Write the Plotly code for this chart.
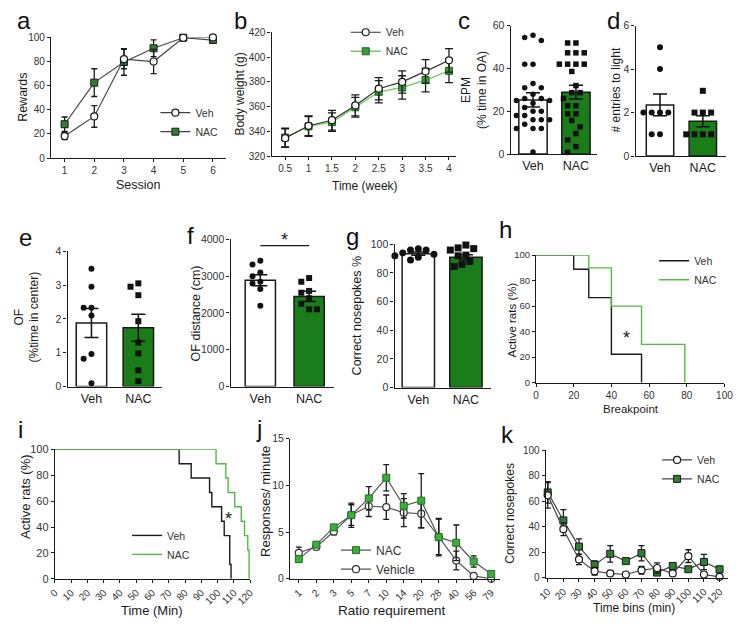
import numpy as np
import plotly.graph_objects as go

W, H = 750, 625
FONT = "Liberation Sans, Arial, sans-serif"
INK = "#1a1a1a"
TICK = "#333333"
GREEN_BAR = "#1a7d1a"
GREEN_MK = "#2e7d32"
GREEN_LINE = "#7cc96a"
GREEN_STEP = "#55b848"
GREEN_J = "#3aae3a"

# ---------------- data ----------------
# a: rewards per session
a_session = [1, 2, 3, 4, 5, 6]
a_veh = [18.2, 34.5, 82.0, 80.0, 99.7, 100.0]
a_veh_err = [3, 9, 8, 10, 0.5, 0.5]
a_nac = [28.0, 62.5, 79.6, 91.0, 99.7, 97.8]
a_nac_err = [6, 11.5, 11, 7, 0.5, 0.5]

# b: body weight
b_week = [0.5, 1, 1.5, 2, 2.5, 3, 3.5, 4]
b_veh = [334.5, 344.5, 349.0, 361.0, 374.5, 380.0, 388.5, 397.5]
b_veh_err = [7.5, 8, 8, 8.5, 9, 9, 9.5, 9.5]
b_nac = [335.0, 344.0, 347.5, 359.5, 372.0, 375.5, 381.5, 389.0]
b_nac_err = [7.5, 8, 7.5, 8, 9, 9.5, 9.5, 9.5]

groups = ["Veh", "NAC"]

# c: EPM % time in open arms
c_veh_pts = [55.5, 54.5, 53, 42, 42, 33, 31, 31, 28, 26, 26, 25, 25, 23.7, 21.8,
             20, 20, 18, 18, 16, 16, 16, 14, 12, 12, 12, 1]
c_nac_pts = [51.9, 51.9, 47.3, 47.3, 47.3, 42, 42, 42, 42, 38.6, 32, 28.7, 28.7,
             26, 22.6, 22.6, 18.8, 18.8, 15.7, 12.7, 9.6, 6.6, 3.5, 0.8]
c_mean = [25.3, 28.9]
c_sem = [3.3, 3.2]

# d: entries to light
d_veh_pts = [5, 4, 2, 2, 2, 2, 1, 1]
d_nac_pts = [3, 2, 2, 2, 1, 1, 1, 1]
d_mean = [2.35, 1.6]
d_sem = [0.5, 0.25]

# e: OF % time in center
e_veh_pts = [3.48, 2.95, 2.33, 2.33, 2.1, 0.96, 0.82, 0.1]
e_nac_pts = [3.05, 2.95, 2.7, 1.93, 1.3, 0.98, 0.48, 0.16]
e_mean = [1.88, 1.74]
e_sem = [0.43, 0.4]

# f: OF distance
f_veh_pts = [3420, 3320, 3100, 3000, 2850, 2800, 2650, 2200]
f_nac_pts = [2950, 2850, 2600, 2550, 2400, 2250, 2100, 2100]
f_mean = [2890, 2450]
f_sem = [150, 140]
f_sig_y = 3830

# g: correct nosepokes %
g_veh_pts = [97, 96, 96, 94, 93, 92, 91, 89]
g_nac_pts = [99.5, 97.5, 97, 96, 92.5, 92, 88, 86, 84.5]
g_mean = [93.5, 91.0]
g_sem = [1.2, 1.8]

# h: survival vs breakpoint
h_veh_x = [0, 20, 28, 40, 56]
h_veh_y = [100, 88.9, 66.7, 22.2, 0]
h_nac_x = [0, 28, 40, 56, 79]
h_nac_y = [100, 90, 60, 30, 0]
h_star = (48, 38)

# i: survival vs time
i_veh_x = [0, 76.4, 83.8, 95.1, 96.5, 102.5, 104.1, 107.5, 108.3]
i_veh_y = [100, 88.9, 77.8, 66.7, 55.6, 44.4, 33.3, 11.1, 0]
i_nac_x = [0, 99.1, 105.1, 106.5, 110.6, 114.6, 116.6, 118.6, 119.4]
i_nac_y = [100, 88.9, 77.8, 66.7, 55.6, 44.4, 33.3, 22.2, 0]
i_star = (107, 49)

# j: responses per minute vs ratio requirement
j_ratio = ["1", "2", "3", "5", "7", "10", "14", "20", "28", "40", "56", "79"]
j_nac = [2.1, 3.65, 5.5, 6.8, 8.6, 10.8, 7.8, 8.35, 4.45, 3.85, 1.85, 0.52]
j_nac_err = [0.3, 0.2, 0.3, 1.3, 1.25, 1.4, 1.3, 2.9, 2.0, 1.9, 0.6, 0.2]
j_veh = [2.78, 3.41, 5.05, 6.82, 7.76, 7.66, 7.07, 6.96, 4.49, 1.95, 0.31, 0.0]
j_veh_err = [0.6, 0.3, 0.35, 1.1, 1.1, 1.3, 1.5, 1.5, 1.9, 1.0, 0.1, 0.05]

# k: correct nosepokes per time bin
k_bins = [10, 20, 30, 40, 50, 60, 70, 80, 90, 100, 110, 120]
k_veh = [64.7, 38.1, 14.4, 5.2, 3.4, 2.6, 5.9, 7.7, 3.4, 17.0, 2.6, 0.8]
k_veh_err = [10, 5, 4, 3, 2, 1, 3, 4, 2, 5, 2, 1]
k_nac = [67.0, 45.0, 24.5, 10.3, 18.8, 13.1, 19.3, 4.1, 9.3, 6.7, 12.4, 6.7]
k_nac_err = [8.5, 8.5, 6, 3, 6.5, 2, 6, 2, 2, 1, 6, 1]

# ---------------- geometry (pixels) ----------------
P = {
    'a': dict(x=(43, 222), y=(32, 155), xr=[0.54, 6.43], yr=[0, 100]),
    'b': dict(x=(269, 458), y=(27, 153), xr=[0.21, 4.15], yr=[320, 420]),
    'c': dict(x=(514, 602), y=(20, 151), xr=[-0.52, 1.48], yr=[0, 60]),
    'd': dict(x=(642, 735), y=(20, 153), xr=[-0.57, 1.55], yr=[0, 6]),
    'e': dict(x=(60, 157), y=(250, 388), xr=[-0.51, 1.51], yr=[0, 4]),
    'f': dict(x=(227, 333), y=(238, 388), xr=[-0.61, 1.51], yr=[0, 4000]),
    'g': dict(x=(395, 494), y=(243, 389), xr=[-0.5, 1.53], yr=[0, 100]),
    'h': dict(x=(540, 733), y=(254, 384), xr=[0, 100], yr=[0, 100]),
    'i': dict(x=(47, 247), y=(452, 584), xr=[0, 120], yr=[0, 100]),
    'j': dict(x=(288, 503), y=(441, 584), xr=[-0.5, 11.5], yr=[0, 15]),
    'k': dict(x=(550, 737), y=(453, 583), xr=[8.75, 125.6], yr=[0, 100]),
}
keys = list(P.keys())


def suffix(key):
    n = keys.index(key) + 1
    return '' if n == 1 else str(n)


def refs(key):
    s = suffix(key)
    return 'x' + s, 'y' + s


def px_scale(key):
    p = P[key]
    sx = (p['x'][1] - p['x'][0]) / (p['xr'][1] - p['xr'][0])
    sy = (p['y'][1] - p['y'][0]) / (p['yr'][1] - p['yr'][0])
    return sx, sy


def swarm(values, key, spacing):
    sx, sy = px_scale(key)
    vals = np.asarray(values, dtype=float)
    order = np.argsort(-vals, kind='stable')
    placed = []
    offs = np.zeros(len(vals))
    cands = [0.0]
    for n in range(1, 12):
        cands += [-n * spacing / 2, n * spacing / 2]
    for i in order:
        ypx = vals[i] * sy
        for c in cands:
            if all((c - px) ** 2 + (ypx - py) ** 2 >= (spacing * 0.92) ** 2 for px, py in placed):
                placed.append((c, ypx))
                offs[i] = c / sx
                break
    return offs


fig = go.Figure()

axis_common = dict(showline=True, linecolor=INK, linewidth=1.3, ticks='outside', ticklen=3,
                   tickwidth=1.2, tickcolor=INK, showgrid=False, zeroline=False,
                   tickfont=dict(size=10, color=TICK, family=FONT), fixedrange=True)
layout = {}
for key in keys:
    p = P[key]
    s = suffix(key)
    layout['xaxis' + s] = dict(domain=[p['x'][0] / W, p['x'][1] / W], range=p['xr'],
                               anchor='y' + s, **axis_common)
    layout['yaxis' + s] = dict(domain=[1 - p['y'][1] / H, 1 - p['y'][0] / H], range=p['yr'],
                               anchor='x' + s, **axis_common)


def err(arr, w=3):
    return dict(type='data', array=arr, color=INK, thickness=1.3, width=w)


# ---- a ----
xa, ya = refs('a')
fig.add_trace(go.Scatter(x=a_session, y=a_nac, error_y=err(a_nac_err), mode='lines+markers',
                         line=dict(color='#444', width=1.2),
                         marker=dict(symbol='square', size=7, color=GREEN_MK, line=dict(color=INK, width=1)),
                         name='NAC', legendrank=2, xaxis=xa, yaxis=ya, legend='legend', cliponaxis=False))
fig.add_trace(go.Scatter(x=a_session, y=a_veh, error_y=err(a_veh_err), mode='lines+markers',
                         line=dict(color='#444', width=1.2),
                         marker=dict(symbol='circle', size=7, color='white', line=dict(color=INK, width=1.2)),
                         name='Veh', legendrank=1, xaxis=xa, yaxis=ya, legend='legend', cliponaxis=False))

# ---- b ----
xb, yb = refs('b')
fig.add_trace(go.Scatter(x=b_week, y=b_nac, error_y=err(b_nac_err, 4), mode='lines+markers',
                         line=dict(color=GREEN_LINE, width=1.4),
                         marker=dict(symbol='square', size=7, color='#3c9a3c', line=dict(color='#1d5e1d', width=1)),
                         name='NAC', legendrank=2, xaxis=xb, yaxis=yb, legend='legend2', cliponaxis=False))
fig.add_trace(go.Scatter(x=b_week, y=b_veh, error_y=err(b_veh_err, 4), mode='lines+markers',
                         line=dict(color='#333', width=1.2),
                         marker=dict(symbol='circle', size=7, color='white', line=dict(color=INK, width=1.2)),
                         name='Veh', legendrank=1, xaxis=xb, yaxis=yb, legend='legend2', cliponaxis=False))


# ---- bar + dot panels ----
def bar_panel(key, veh_pts, nac_pts, mean, sem, width, msize, spacing):
    xr_, yr_ = refs(key)
    fig.add_trace(go.Bar(x=[0, 1], y=mean, width=width,
                         marker=dict(color=['white', GREEN_BAR], line=dict(color=INK, width=1.5)),
                         showlegend=False, xaxis=xr_, yaxis=yr_))
    for gi, (pts, sym) in enumerate([(veh_pts, 'circle'), (nac_pts, 'square')]):
        offs = swarm(pts, key, spacing)
        fig.add_trace(go.Scatter(x=gi + offs, y=pts, mode='markers',
                                 marker=dict(symbol=sym, size=msize, color='#111'),
                                 showlegend=False, xaxis=xr_, yaxis=yr_, cliponaxis=False))
    fig.add_trace(go.Scatter(x=[0, 1], y=mean, mode='markers', marker=dict(size=1, color='rgba(0,0,0,0)'),
                             error_y=dict(type='data', array=sem, color='#111', thickness=1.5, width=7),
                             showlegend=False, xaxis=xr_, yaxis=yr_, cliponaxis=False))


bar_panel('c', c_veh_pts, c_nac_pts, c_mean, c_sem, 0.66, 5.5, 8.5)
bar_panel('d', d_veh_pts, d_nac_pts, d_mean, d_sem, 0.64, 6, 8.5)
bar_panel('e', e_veh_pts, e_nac_pts, e_mean, e_sem, 0.65, 6, 8)
bar_panel('f', f_veh_pts, f_nac_pts, f_mean, f_sem, 0.62, 6, 8)
bar_panel('g', g_veh_pts, g_nac_pts, g_mean, g_sem, 0.68, 7, 8)

# ---- h ----
xh, yh = refs('h')
fig.add_trace(go.Scatter(x=h_veh_x, y=h_veh_y, mode='lines', line=dict(color=INK, width=1.4, shape='hv'),
                         name='Veh', xaxis=xh, yaxis=yh, legend='legend3'))
fig.add_trace(go.Scatter(x=h_nac_x, y=h_nac_y, mode='lines', line=dict(color=GREEN_STEP, width=1.4, shape='hv'),
                         name='NAC', xaxis=xh, yaxis=yh, legend='legend3'))

# ---- i ----
xi, yi = refs('i')
fig.add_trace(go.Scatter(x=i_veh_x, y=i_veh_y, mode='lines', line=dict(color=INK, width=1.4, shape='hv'),
                         name='Veh', xaxis=xi, yaxis=yi, legend='legend4'))
fig.add_trace(go.Scatter(x=i_nac_x, y=i_nac_y, mode='lines', line=dict(color=GREEN_STEP, width=1.4, shape='hv'),
                         name='NAC', xaxis=xi, yaxis=yi, legend='legend4'))

# ---- j ----
xj, yj = refs('j')
fig.add_trace(go.Scatter(x=j_ratio, y=j_veh, error_y=err(j_veh_err, 3), mode='lines+markers',
                         line=dict(color='#555', width=1.2),
                         marker=dict(symbol='circle', size=7, color='white', line=dict(color='#333', width=1.2)),
                         name='Vehicle', legendrank=2, xaxis=xj, yaxis=yj, legend='legend5', cliponaxis=False))
fig.add_trace(go.Scatter(x=j_ratio, y=j_nac, error_y=err(j_nac_err, 3), mode='lines+markers',
                         line=dict(color='#555', width=1.2),
                         marker=dict(symbol='square', size=7, color=GREEN_J, line=dict(color='#2a6a2a', width=1)),
                         name='NAC', legendrank=1, xaxis=xj, yaxis=yj, legend='legend5', cliponaxis=False))

# ---- k ----
xk, yk = refs('k')
fig.add_trace(go.Scatter(x=k_bins, y=k_nac, error_y=err(k_nac_err, 3), mode='lines+markers',
                         line=dict(color='#444', width=1.2),
                         marker=dict(symbol='square', size=7, color=GREEN_MK, line=dict(color=INK, width=1)),
                         name='NAC', legendrank=2, xaxis=xk, yaxis=yk, legend='legend6', cliponaxis=False))
fig.add_trace(go.Scatter(x=k_bins, y=k_veh, error_y=err(k_veh_err, 3), mode='lines+markers',
                         line=dict(color='#444', width=1.2),
                         marker=dict(symbol='circle', size=7, color='white', line=dict(color=INK, width=1.2)),
                         name='Veh', legendrank=1, xaxis=xk, yaxis=yk, legend='legend6', cliponaxis=False))

# ---- per-axis tick settings ----
def ax(key, which):
    return layout[('xaxis' if which == 'x' else 'yaxis') + suffix(key)]


ax('a', 'x').update(tickvals=a_session)
ax('a', 'y').update(tickvals=[0, 20, 40, 60, 80, 100])
ax('b', 'x').update(tickvals=b_week)
ax('b', 'y').update(tickvals=[320, 340, 360, 380, 400, 420])
for key, yt in [('c', [0, 20, 40, 60]), ('d', [0, 2, 4, 6]), ('e', [0, 1, 2, 3, 4]),
                ('f', [0, 1000, 2000, 3000, 4000]), ('g', [0, 20, 40, 60, 80, 100])]:
    ax(key, 'x').update(tickvals=[0, 1], ticktext=groups, ticks='',
                        tickfont=dict(size=12.5, color=INK, family=FONT))
    ax(key, 'y').update(tickvals=yt, tickfont=dict(size=10.5, color=TICK, family=FONT))
ax('h', 'x').update(tickvals=[0, 20, 40, 60, 80, 100])
ax('h', 'y').update(tickvals=[0, 20, 40, 60, 80, 100], tickfont=dict(size=9.5, color=TICK, family=FONT))
ax('i', 'x').update(tickvals=list(range(0, 121, 10)), tickangle=-45)
ax('i', 'y').update(tickvals=[0, 20, 40, 60, 80, 100], tickfont=dict(size=11, color=TICK, family=FONT))
ax('j', 'x').update(type='category', tickangle=-45)
ax('j', 'y').update(tickvals=[0, 5, 10, 15], tickfont=dict(size=10.5, color=TICK, family=FONT))
ax('k', 'x').update(tickvals=k_bins, tickangle=-45)
ax('k', 'y').update(tickvals=[0, 20, 40, 60, 80, 100])

# ---- legends ----
def leg(xpx, ypx, size=10.5):
    return dict(x=xpx / W, y=1 - ypx / H, xanchor='left', yanchor='top', bgcolor='rgba(0,0,0,0)',
                font=dict(size=size, color='#333', family=FONT), itemwidth=30, tracegroupgap=0,
                traceorder='normal')


layout['legend'] = leg(150, 94)
layout['legend2'] = leg(345, 12)
layout['legend3'] = leg(661, 245)
layout['legend4'] = leg(121, 525)
layout['legend5'] = leg(335, 540, 12)
layout['legend6'] = leg(664, 448)

# ---- annotations ----
ann = []


def text(xpx, ypx, t, size=12, angle=0, color=INK, **kw):
    ann.append(dict(x=xpx / W, y=1 - ypx / H, xref='paper', yref='paper', text=t, showarrow=False,
                    textangle=angle, font=dict(size=size, color=color, family=FONT),
                    xanchor='center', yanchor='middle', **kw))


# panel letters
for lt, xx, yy in [('a', 15, 15), ('b', 237, 15), ('c', 466, 15), ('d', 619, 15),
                   ('e', 17, 236), ('f', 186, 234), ('g', 352, 235), ('h', 509, 228),
                   ('i', 12, 432), ('j', 256, 431), ('k', 511, 437)]:
    text(xx, yy, lt, size=24, color='#111')

# axis titles
text(15, 93, 'Rewards', 12.5, -90)
text(133, 182, 'Session', 12.5)
text(237, 90, 'Body weight (g)', 12, -90)
text(365, 184, 'Time (week)', 12)
text(477, 86, 'EPM<br>(% time in OA)', 12, -90)
text(622, 86, '# entries to light', 12, -90)
text(18, 317, 'OF<br>(%time in center)', 12, -90)
text(192, 313, 'OF distance (cm)', 12.5, -90)
text(357, 315, 'Correct nosepokes %', 12.5, -90)
text(515, 320, 'Active rats (%)', 11.5, -90)
text(637, 411, 'Breakpoint', 11.5)
text(17, 500, 'Active rats (%)', 13, -90)
text(147, 616, 'Time (Min)', 13)
text(263, 505, 'Responses/ minute', 13, -90)
text(392, 616, 'Ratio requirement', 13.5)
text(513, 517, 'Correct nosepokes', 12, -90)
text(640, 614, 'Time bins (min)', 12)

# stars / significance
xf, yf = refs('f')
ann.append(dict(x=0.5, y=f_sig_y, xref=xf, yref=yf, text='*', showarrow=False, yanchor='bottom',
                yshift=-6, font=dict(size=18, color=INK, family=FONT)))
ann.append(dict(x=h_star[0], y=h_star[1], xref=xh, yref=yh, text='*', showarrow=False, yshift=-4,
                font=dict(size=18, color=INK, family=FONT)))
ann.append(dict(x=i_star[0], y=i_star[1], xref=xi, yref=yi, text='*', showarrow=False, yshift=-4,
                font=dict(size=18, color=INK, family=FONT)))

shapes = [dict(type='line', xref=xf, yref=yf, x0=0, x1=1, y0=f_sig_y, y1=f_sig_y,
               line=dict(color=INK, width=1.3))]

fig.update_layout(width=W, height=H, autosize=False, margin=dict(l=0, r=0, t=0, b=0),
                  paper_bgcolor='white', plot_bgcolor='white', barmode='overlay',
                  font=dict(family=FONT, color=INK), annotations=ann, shapes=shapes,
                  showlegend=True, **layout)

fig.write_html("out.html", config=dict(displayModeBar=False),
               post_script="document.body.style.margin='0';document.body.style.overflow='hidden';")
